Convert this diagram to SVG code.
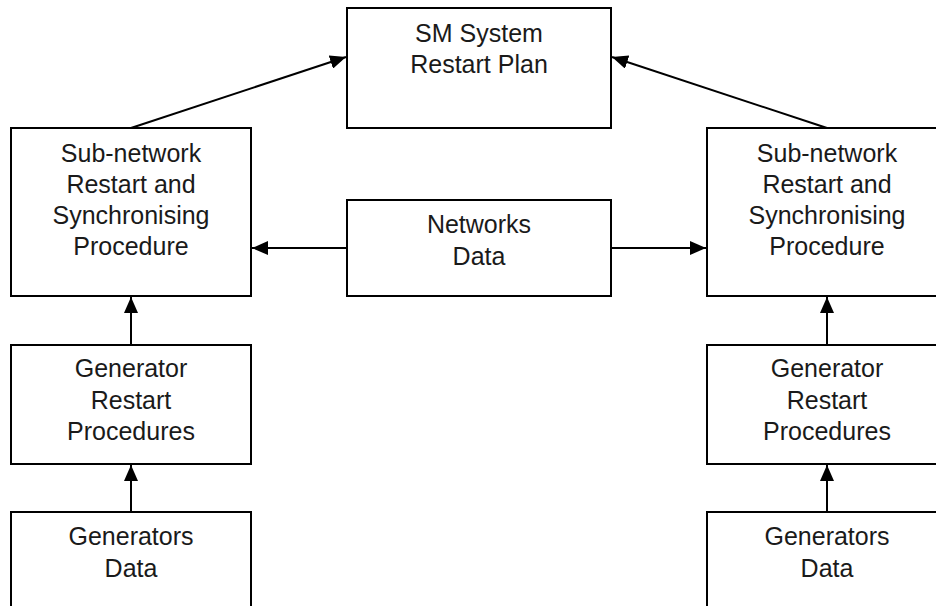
<svg xmlns="http://www.w3.org/2000/svg" width="936" height="606" viewBox="0 0 936 606">
<defs>
<style>
.box{fill:#fff;stroke:#000;stroke-width:2}
.t{font-family:"Liberation Sans",Arial,sans-serif;font-size:25px;fill:#1a1a1a;text-anchor:middle}
.c{stroke:#000;stroke-width:2;fill:none;marker-end:url(#ah)}
</style>
<marker id="ah" viewBox="0 0 16 14" refX="16" refY="7" markerWidth="16" markerHeight="14" markerUnits="userSpaceOnUse" orient="auto">
<path d="M0,0 L16,7 L0,14 Z" fill="#000"/>
</marker>
</defs>
<rect width="936" height="606" fill="#fff"/>
<g id="connectors">
<line class="c" x1="131" y1="128" x2="346" y2="57"/>
<line class="c" x1="827" y1="128" x2="612" y2="57"/>
<line class="c" x1="347" y1="248" x2="252" y2="248"/>
<line class="c" x1="611" y1="248" x2="706" y2="248"/>
<line class="c" x1="131" y1="345" x2="131" y2="297"/>
<line class="c" x1="131" y1="512" x2="131" y2="465"/>
<line class="c" x1="827" y1="345" x2="827" y2="297"/>
<line class="c" x1="827" y1="512" x2="827" y2="465"/>
</g>
<g id="plan">
<rect class="box" x="347" y="8" width="264" height="120"/>
<text class="t" x="479" y="42">SM System</text>
<text class="t" x="479" y="73">Restart Plan</text>
</g>
<g id="subnet-left">
<rect class="box" x="11" y="128" width="240" height="168"/>
<text class="t" x="131" y="162">Sub-network</text>
<text class="t" x="131" y="193">Restart and</text>
<text class="t" x="131" y="224">Synchronising</text>
<text class="t" x="131" y="255">Procedure</text>
</g>
<g id="networks-data">
<rect class="box" x="347" y="200" width="264" height="96"/>
<text class="t" x="479" y="233">Networks</text>
<text class="t" x="479" y="265">Data</text>
</g>
<g id="subnet-right">
<rect class="box" x="707" y="128" width="240" height="168"/>
<text class="t" x="827" y="162">Sub-network</text>
<text class="t" x="827" y="193">Restart and</text>
<text class="t" x="827" y="224">Synchronising</text>
<text class="t" x="827" y="255">Procedure</text>
</g>
<g id="gen-restart-left">
<rect class="box" x="11" y="345" width="240" height="119"/>
<text class="t" x="131" y="377">Generator</text>
<text class="t" x="131" y="409">Restart</text>
<text class="t" x="131" y="440">Procedures</text>
</g>
<g id="gen-restart-right">
<rect class="box" x="707" y="345" width="240" height="119"/>
<text class="t" x="827" y="377">Generator</text>
<text class="t" x="827" y="409">Restart</text>
<text class="t" x="827" y="440">Procedures</text>
</g>
<g id="gen-data-left">
<rect class="box" x="11" y="512" width="240" height="110"/>
<text class="t" x="131" y="545">Generators</text>
<text class="t" x="131" y="577">Data</text>
</g>
<g id="gen-data-right">
<rect class="box" x="707" y="512" width="240" height="110"/>
<text class="t" x="827" y="545">Generators</text>
<text class="t" x="827" y="577">Data</text>
</g>
</svg>
